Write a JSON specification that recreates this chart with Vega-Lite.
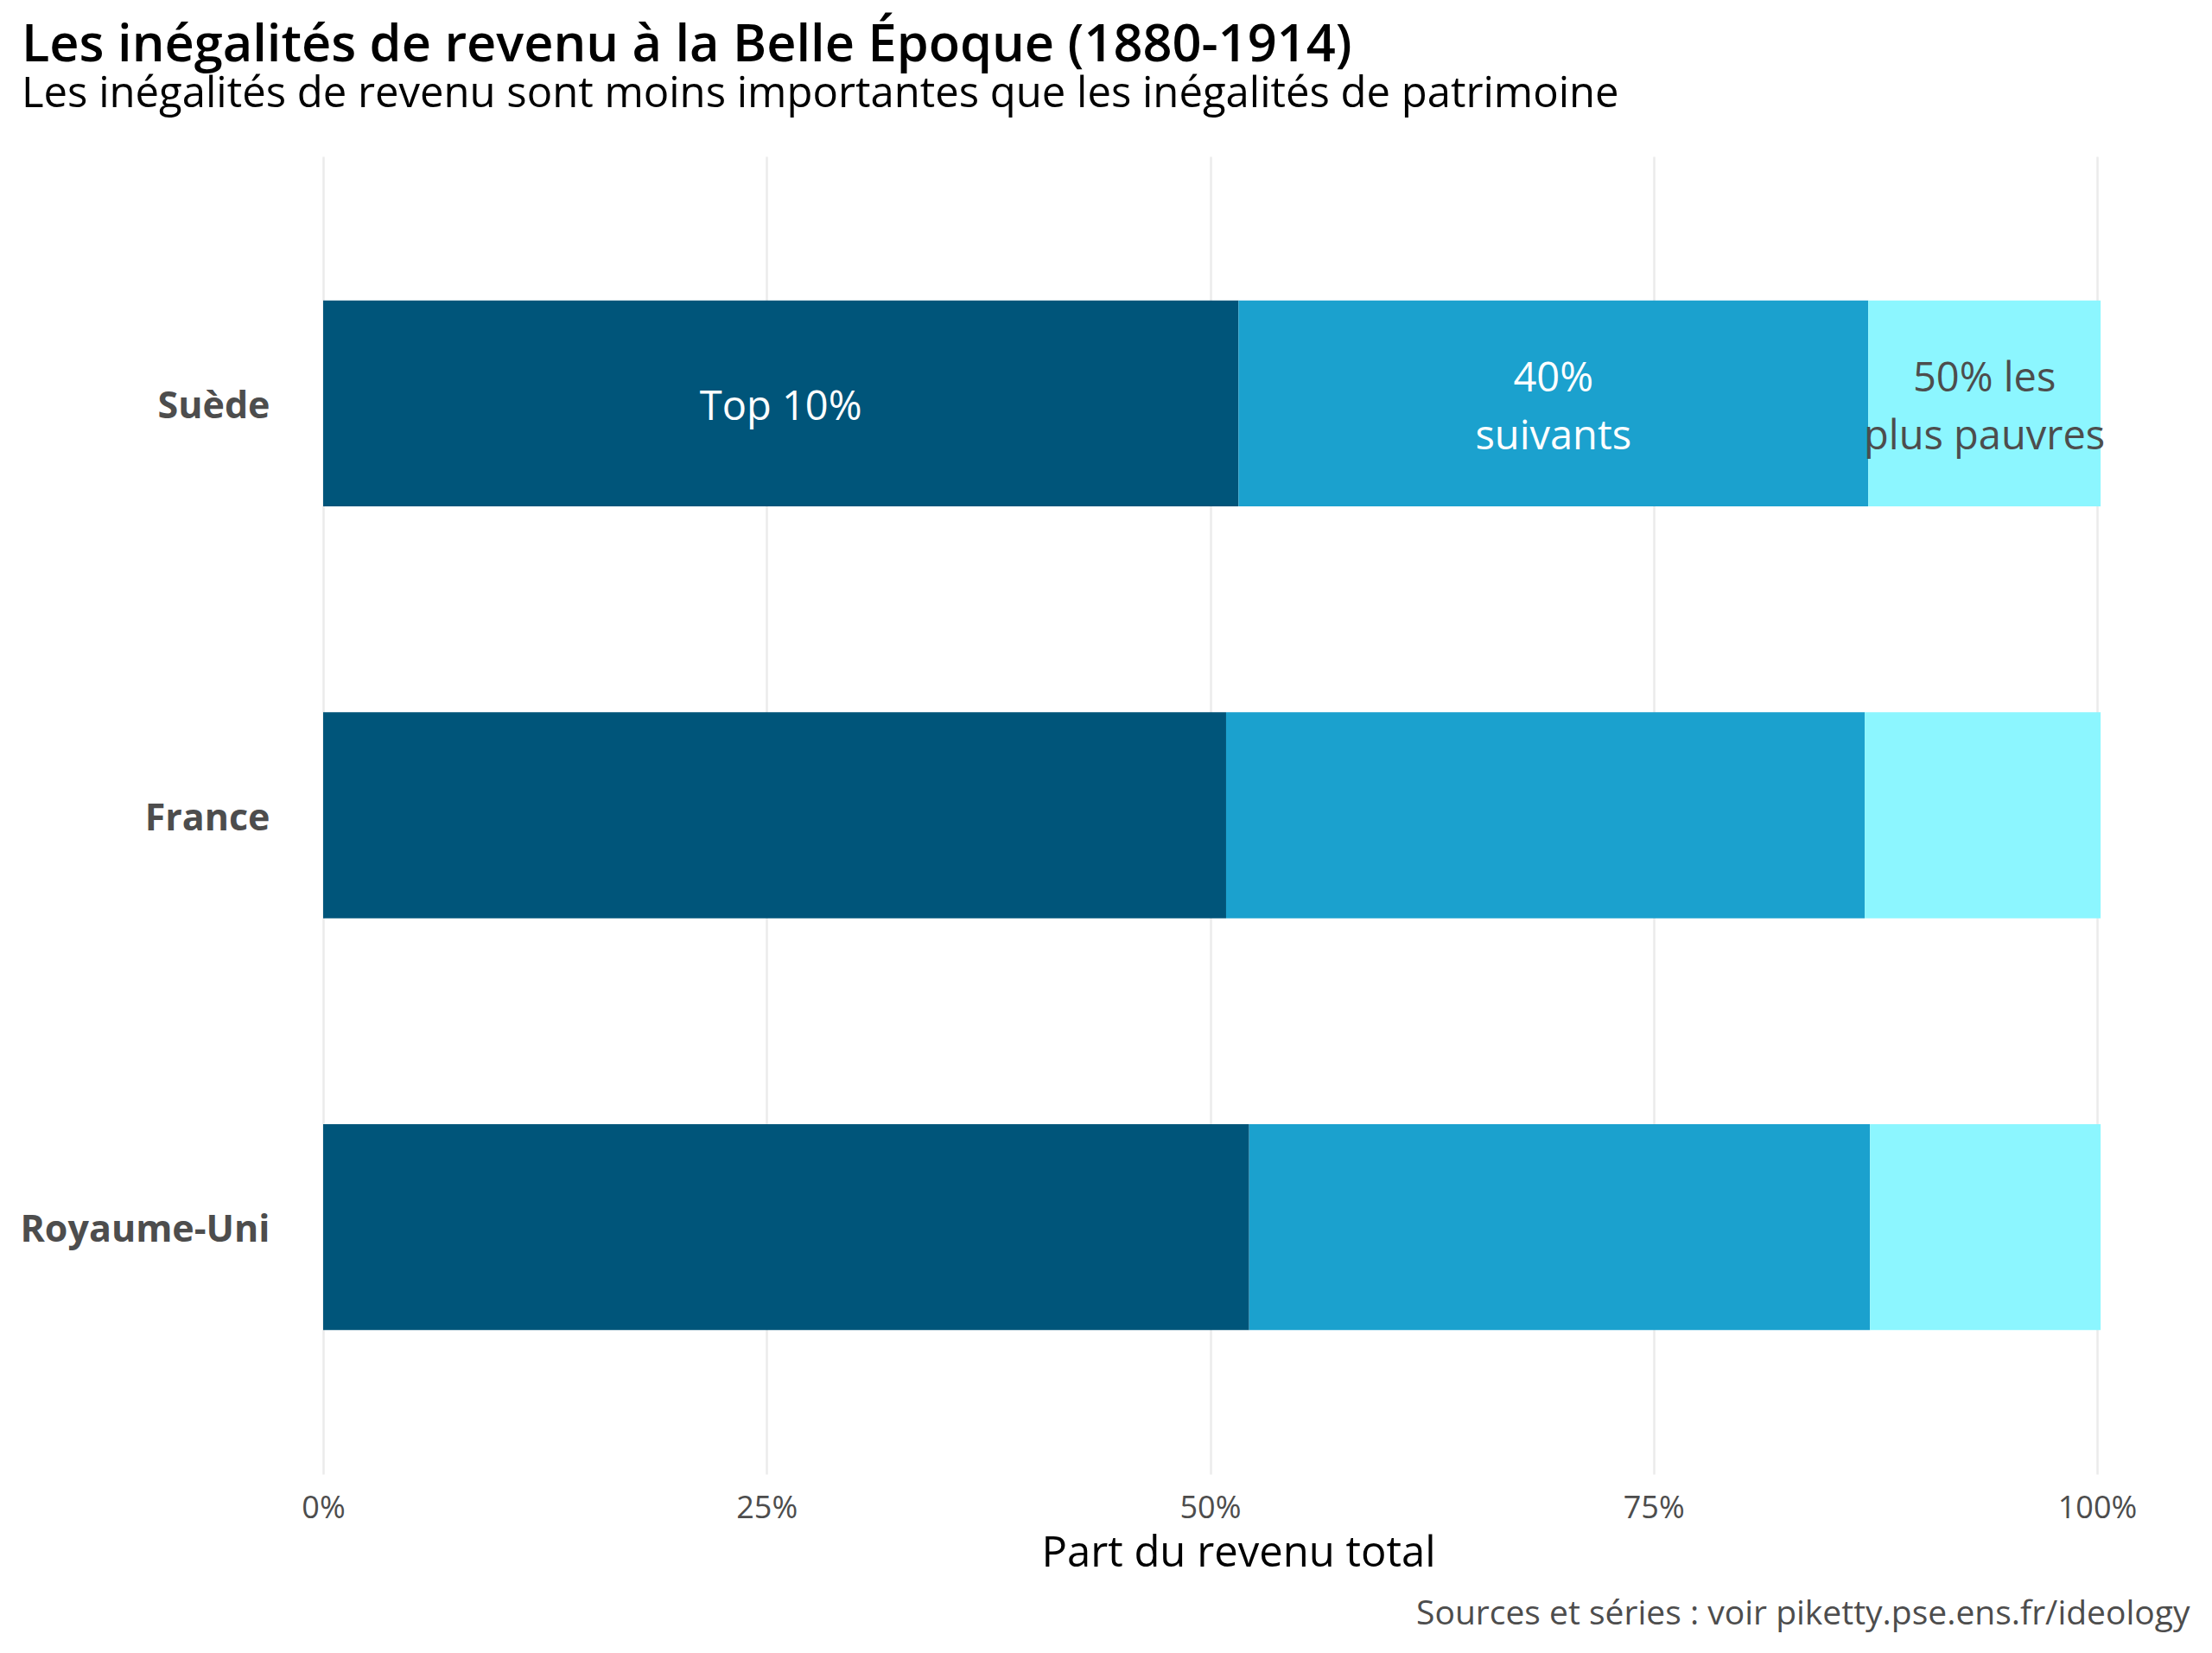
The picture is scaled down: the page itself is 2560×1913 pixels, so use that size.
{
  "$schema": "https://vega.github.io/schema/vega-lite/v6.json",
  "width": 2053,
  "height": 1525,
  "autosize": {"type": "none"},
  "padding": {"left": 374, "top": 181, "right": 133, "bottom": 207},
  "background": "white",
  "config": {"font": "Open Sans", "view": {"stroke": null}},
  "title": {
    "text": "Les inégalités de revenu à la Belle Époque (1880-1914)",
    "subtitle": "Les inégalités de revenu sont moins importantes que les inégalités de patrimoine",
    "anchor": "start",
    "frame": "group",
    "dx": -349,
    "font": "Open Sans",
    "subtitleFont": "Open Sans",
    "fontSize": 59.5,
    "fontWeight": 600,
    "color": "black",
    "subtitleFontSize": 49,
    "subtitleColor": "black",
    "subtitlePadding": 2,
    "offset": 46
  },
  "data": {
    "values": [
      {"country": "Suède", "group": "Top 10%", "rank": 1, "share": 0.516, "label": "Top 10%"},
      {"country": "Suède", "group": "40% suivants", "rank": 2, "share": 0.355, "label": "40%\nsuivants"},
      {"country": "Suède", "group": "50% les plus pauvres", "rank": 3, "share": 0.131, "label": "50% les\nplus pauvres"},
      {"country": "France", "group": "Top 10%", "rank": 1, "share": 0.509},
      {"country": "France", "group": "40% suivants", "rank": 2, "share": 0.36},
      {"country": "France", "group": "50% les plus pauvres", "rank": 3, "share": 0.133},
      {"country": "Royaume-Uni", "group": "Top 10%", "rank": 1, "share": 0.522},
      {"country": "Royaume-Uni", "group": "40% suivants", "rank": 2, "share": 0.35},
      {"country": "Royaume-Uni", "group": "50% les plus pauvres", "rank": 3, "share": 0.13}
    ]
  },
  "layer": [
    {
      "mark": {"type": "bar"},
      "encoding": {
        "y": {
          "field": "country", "type": "nominal",
          "sort": ["Suède", "France", "Royaume-Uni"],
          "scale": {"paddingInner": 0.5, "paddingOuter": 0.35},
          "axis": {
            "title": null, "ticks": false, "domain": false, "grid": false,
            "labelFontSize": 43, "labelFontWeight": "bold", "labelColor": "#4D4D4D",
            "labelPadding": 62, "labelLimit": 0, "labelOffset": 4
          }
        },
        "x": {
          "field": "share", "type": "quantitative", "stack": "zero",
          "scale": {"domain": [0, 1], "nice": false},
          "axis": {
            "format": ".0%", "values": [0, 0.25, 0.5, 0.75, 1],
            "grid": true, "gridColor": "#EBEBEB", "gridWidth": 2.5,
            "ticks": false, "domain": false, "labelFlush": false,
            "labelFontSize": 36, "labelColor": "#4D4D4D", "labelPadding": 22,
            "title": "Part du revenu total", "titleFontSize": 49,
            "titleFontWeight": "normal", "titleColor": "black", "titlePadding": 10,
            "titleX": 1059, "titleAlign": "center"
          }
        },
        "color": {
          "field": "group", "type": "nominal",
          "scale": {
            "domain": ["Top 10%", "40% suivants", "50% les plus pauvres"],
            "range": ["#00557A", "#1BA1CE", "#8CF6FF"]
          },
          "legend": null
        },
        "order": {"field": "rank", "type": "quantitative"}
      }
    },
    {
      "transform": [{"filter": "isValid(datum.label) && datum.rank === 1"}],
      "mark": {"type": "text", "fontSize": 47, "dy": 5, "font": "Open Sans", "baseline": "middle", "align": "center", "color": "white"},
      "encoding": {
        "y": {"field": "country", "type": "nominal", "sort": ["Suède", "France", "Royaume-Uni"]},
        "x": {"field": "share", "type": "quantitative", "stack": "zero", "bandPosition": 0.5, "axis": null},
        "text": {"field": "label", "type": "nominal"},
        "order": {"field": "rank", "type": "quantitative"}
      }
    },
    {
      "transform": [{"filter": "isValid(datum.label)"}],
      "mark": {"type": "text", "lineBreak": "\n", "fontSize": 47, "lineHeight": 67, "dy": -27.5, "font": "Open Sans", "baseline": "middle", "align": "center"},
      "encoding": {
        "y": {"field": "country", "type": "nominal", "sort": ["Suède", "France", "Royaume-Uni"]},
        "x": {
          "field": "share", "type": "quantitative", "stack": "zero", "bandPosition": 0.5,
          "axis": {
            "orient": "bottom", "labels": false, "ticks": false, "domain": false, "grid": false,
            "title": "Sources et séries : voir piketty.pse.ens.fr/ideology",
            "titleFontSize": 39, "titleColor": "#4D4D4D", "titleFontWeight": "normal",
            "titleAlign": "right", "titleAnchor": "end", "titleX": 2160, "titleY": 161,
            "titleBaseline": "middle"
          }
        },
        "text": {"field": "label", "type": "nominal"},
        "order": {"field": "rank", "type": "quantitative"},
        "color": {"condition": {"test": "datum.rank === 3", "value": "#4D4D4D"}, "value": "white"},
        "opacity": {"condition": {"test": "datum.rank === 1", "value": 0}, "value": 1}
      }
    }
  ],
  "resolve": {"axis": {"x": "independent"}}
}
